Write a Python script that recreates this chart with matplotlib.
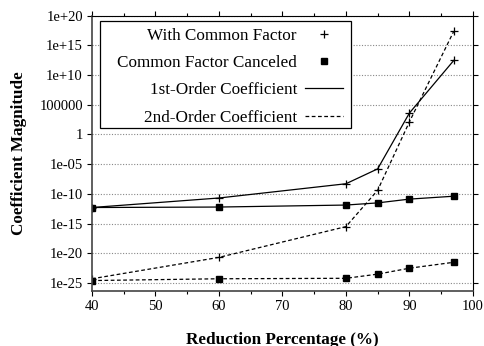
import matplotlib
matplotlib.use('Agg')
import matplotlib.pyplot as plt
from matplotlib.lines import Line2D
from matplotlib.patches import Rectangle
from matplotlib.ticker import FixedLocator, FixedFormatter, MultipleLocator

plt.rcParams['font.family'] = ['Liberation Serif', 'DejaVu Serif']

reduction = [40, 60, 80, 85, 90, 97]
common_first = [5e-13, 2e-11, 5e-9, 1.6e-6, 4e3, 3e12]
common_second = [5e-25, 2e-21, 3e-16, 4e-10, 1.3e2, 2.5e17]
canceled_first = [5e-13, 6e-13, 1.3e-12, 3e-12, 1.3e-11, 4e-11]
canceled_second = [2.5e-25, 5e-25, 6e-25, 3e-24, 3e-23, 3e-22]

ytick_values = [1e-25, 1e-20, 1e-15, 1e-10, 1e-5, 1, 1e5, 1e10, 1e15, 1e20]
ytick_labels = ['1e-25', '1e-20', '1e-15', '1e-10', '1e-05', '1', '100000', '1e+10', '1e+15', '1e+20']
legend_labels = ['With Common Factor', 'Common Factor Canceled',
                 '1st-Order Coefficient', '2nd-Order Coefficient']

fig = plt.figure(figsize=(4.84, 3.46), dpi=100)
ax = fig.add_axes([0.190, 0.160, 0.787, 0.7946])

dash = (0, (3, 2))
ax.plot(reduction, common_first, '-', color='black', lw=0.9, marker='+', ms=6, mew=0.9)
ax.plot(reduction, common_second, color='black', lw=0.9, ls=dash, marker='+', ms=6, mew=0.9)
ax.plot(reduction, canceled_first, '-', color='black', lw=0.9, marker='s', ms=4.5)
ax.plot(reduction, canceled_second, color='black', lw=0.9, ls=dash, marker='s', ms=4.5)

ax.set_yscale('log')
ax.set_ylim(10 ** -26.3, 1e20)
ax.set_xlim(40, 100)
ax.yaxis.set_major_locator(FixedLocator(ytick_values))
ax.yaxis.set_major_formatter(FixedFormatter(ytick_labels))
ax.yaxis.set_minor_locator(FixedLocator([]))
ax.xaxis.set_major_locator(MultipleLocator(10))
ax.xaxis.set_minor_locator(MultipleLocator(5))

ax.grid(axis='y', which='major', color='#888888', ls=(0, (1, 1.5)), lw=0.8)
ax.tick_params(which='both', direction='out', top=True, right=True,
               labelsize=10.5, pad=3, colors='black')
ax.tick_params(which='major', length=3.5, width=0.8)
ax.tick_params(which='minor', length=2, width=0.8)
for side in ['left', 'bottom']:
    ax.spines[side].set_color('#444444')
    ax.spines[side].set_linewidth(1.2)
for side in ['top', 'right']:
    ax.spines[side].set_color('black')
    ax.spines[side].set_linewidth(0.8)

ax.set_xlabel('Reduction Percentage (%)', fontsize=12.3, fontweight='bold')
ax.set_ylabel('Coefficient Magnitude', fontsize=12.3, fontweight='bold')
ax.xaxis.set_label_coords(0.5, -0.150)
ax.yaxis.set_label_coords(-0.171, 0.5)

# legend box drawn separately so the entries can sit against its right side
ax.add_patch(Rectangle((0.021, 0.591), 0.659, 0.391, transform=ax.transAxes,
                       facecolor='white', edgecolor='black', lw=0.9, zorder=4.5))
handles = [
    Line2D([], [], ls='none', marker='+', color='black', ms=6, mew=0.9),
    Line2D([], [], ls='none', marker='s', color='black', ms=4.5),
    Line2D([], [], ls='-', color='black', lw=0.9),
    Line2D([], [], ls=dash, color='black', lw=0.9),
]
leg = ax.legend(handles, legend_labels, loc='upper right', markerfirst=False,
                bbox_to_anchor=(0.658, 0.957), frameon=False,
                fontsize=12.3, handlelength=2.2, handletextpad=0.47,
                labelspacing=0.67, borderpad=0, borderaxespad=0)

fig.savefig('out.png', dpi=100)
